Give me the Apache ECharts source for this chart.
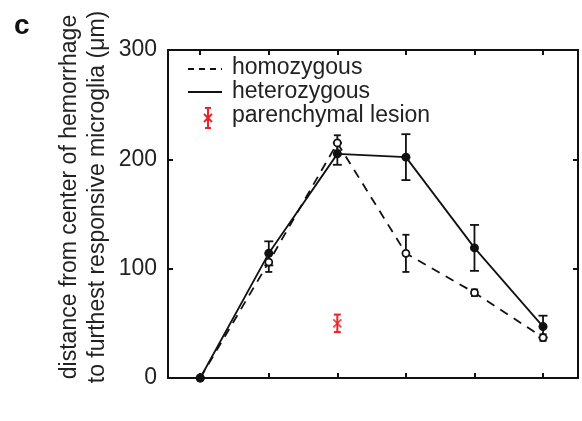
<!DOCTYPE html>
<html>
<head>
<meta charset="utf-8">
<script src="https://cdn.jsdelivr.net/npm/echarts@6/dist/echarts.min.js"></script>
<style>
  html, body { margin: 0; padding: 0; background: #fff; }
  #chart { width: 582px; height: 421px; }
</style>
</head>
<body>
<div id="chart"></div>
<script>
// Time points along the x axis (unlabelled)
const timePoints = [0, 1, 2, 3, 4, 5];
// Distance (µm) of furthest responsive microglia
const homozygous = [0, 106, 215, 114, 78, 37];
const homozygousErr = [0, 9, 7, 17, 3, 3];
const heterozygous = [0, 114, 205, 202, 119, 47];
const heterozygousErr = [0, 11, 10, 21, 21, 10];
const lesionX = [2];
const lesion = [50];
const lesionErr = [8];
const yTicks = [0, 100, 200, 300];

const FONT = 'Liberation Sans, Arial, sans-serif';

function pairs(xs, ys) { return xs.map((x, i) => [x, ys[i]]); }
function errRows(xs, ys, es) { return xs.map((x, i) => [x, ys[i] - es[i], ys[i] + es[i]]); }

function errorBarRender(color, cap, width) {
  return function (params, api) {
    const x = api.value(0);
    const lo = api.coord([x, api.value(1)]);
    const hi = api.coord([x, api.value(2)]);
    const style = { stroke: color, lineWidth: width };
    return {
      type: 'group',
      children: [
        { type: 'line', shape: { x1: lo[0], y1: lo[1], x2: hi[0], y2: hi[1] }, style },
        { type: 'line', shape: { x1: lo[0] - cap, y1: lo[1], x2: lo[0] + cap, y2: lo[1] }, style },
        { type: 'line', shape: { x1: hi[0] - cap, y1: hi[1], x2: hi[0] + cap, y2: hi[1] }, style }
      ]
    };
  };
}

const chart = echarts.init(document.getElementById('chart'), null, { renderer: 'canvas' });

function frameAxis(extra, ticks) {
  return Object.assign({
    type: 'value',
    axisLine: { show: true, onZero: false, lineStyle: { color: '#111', width: 2 } },
    axisTick: { show: true, inside: true, length: 5, customValues: ticks, lineStyle: { color: '#111', width: 2 } },
    axisLabel: { show: false },
    splitLine: { show: false }
  }, extra);
}

chart.setOption({
  animation: false,
  grid: { left: 168, top: 50, right: 4, bottom: 43 },
  xAxis: [
    frameAxis({ position: 'bottom', min: -0.47, max: 5.51 }, timePoints),
    frameAxis({ position: 'top', min: -0.47, max: 5.51 }, timePoints)
  ],
  yAxis: [
    frameAxis({
      position: 'left', min: 0, max: 300, interval: 100,
      axisLabel: { show: true, color: '#222', fontSize: 23, fontFamily: FONT, margin: 11, customValues: yTicks }
    }, yTicks),
    frameAxis({ position: 'right', min: 0, max: 300, interval: 100 }, yTicks)
  ],
  series: [
    {
      name: 'homozygous', type: 'line', data: pairs(timePoints, homozygous),
      lineStyle: { color: '#111', width: 1.8, type: [9, 7] },
      symbol: 'circle', symbolSize: 7,
      itemStyle: { color: '#fff', borderColor: '#111', borderWidth: 1.8 },
      z: 3
    },
    {
      name: 'homozygous err', type: 'custom', data: errRows(timePoints, homozygous, homozygousErr),
      renderItem: errorBarRender('#111', 3.5, 1.8), z: 2
    },
    {
      name: 'heterozygous', type: 'line', data: pairs(timePoints, heterozygous),
      lineStyle: { color: '#111', width: 1.8 },
      symbol: 'circle', symbolSize: 9,
      itemStyle: { color: '#111', borderColor: '#111', borderWidth: 0 },
      z: 4
    },
    {
      name: 'heterozygous err', type: 'custom', data: errRows(timePoints, heterozygous, heterozygousErr),
      renderItem: errorBarRender('#111', 4.5, 1.8), z: 2
    },
    {
      name: 'parenchymal lesion err', type: 'custom', data: errRows(lesionX, lesion, lesionErr),
      renderItem: errorBarRender('#e8232a', 3.5, 2), z: 5
    },
    {
      name: 'parenchymal lesion', type: 'scatter', data: pairs(lesionX, lesion),
      symbol: 'path://M0,0 L10,10 M10,0 L0,10', symbolSize: 8,
      itemStyle: { color: 'none', borderColor: '#e8232a', borderWidth: 2 },
      z: 6
    }
  ],
  graphic: [
    // panel letter
    { type: 'text', x: 14, y: 12, style: { text: 'c', font: 'bold 28px ' + FONT, fill: '#111' } },
    // y axis title (two lines)
    {
      type: 'text', x: 84, y: 197, rotation: Math.PI / 2,
      style: {
        text: 'distance from center of hemorrhage\nto furthest responsive microglia (μm)',
        font: '23px ' + FONT, fill: '#222', align: 'center', verticalAlign: 'middle', lineHeight: 28
      }
    },
    // legend
    { type: 'line', shape: { x1: 188, y1: 69, x2: 222, y2: 69 }, style: { stroke: '#111', lineWidth: 1.8, lineDash: [6, 5] } },
    { type: 'text', x: 232, y: 68, style: { text: 'homozygous', font: '23px ' + FONT, fill: '#222', verticalAlign: 'middle' } },
    { type: 'line', shape: { x1: 188, y1: 92, x2: 222, y2: 92 }, style: { stroke: '#111', lineWidth: 1.8 } },
    { type: 'text', x: 232, y: 92, style: { text: 'heterozygous', font: '23px ' + FONT, fill: '#222', verticalAlign: 'middle' } },
    { type: 'line', shape: { x1: 208, y1: 108, x2: 208, y2: 128 }, style: { stroke: '#e8232a', lineWidth: 2 } },
    { type: 'line', shape: { x1: 205, y1: 108, x2: 211, y2: 108 }, style: { stroke: '#e8232a', lineWidth: 2 } },
    { type: 'line', shape: { x1: 205, y1: 128, x2: 211, y2: 128 }, style: { stroke: '#e8232a', lineWidth: 2 } },
    { type: 'line', shape: { x1: 204, y1: 114, x2: 212, y2: 122 }, style: { stroke: '#e8232a', lineWidth: 2 } },
    { type: 'line', shape: { x1: 212, y1: 114, x2: 204, y2: 122 }, style: { stroke: '#e8232a', lineWidth: 2 } },
    { type: 'text', x: 232, y: 116, style: { text: 'parenchymal lesion', font: '23px ' + FONT, fill: '#222', verticalAlign: 'middle' } }
  ]
});
</script>
</body>
</html>
